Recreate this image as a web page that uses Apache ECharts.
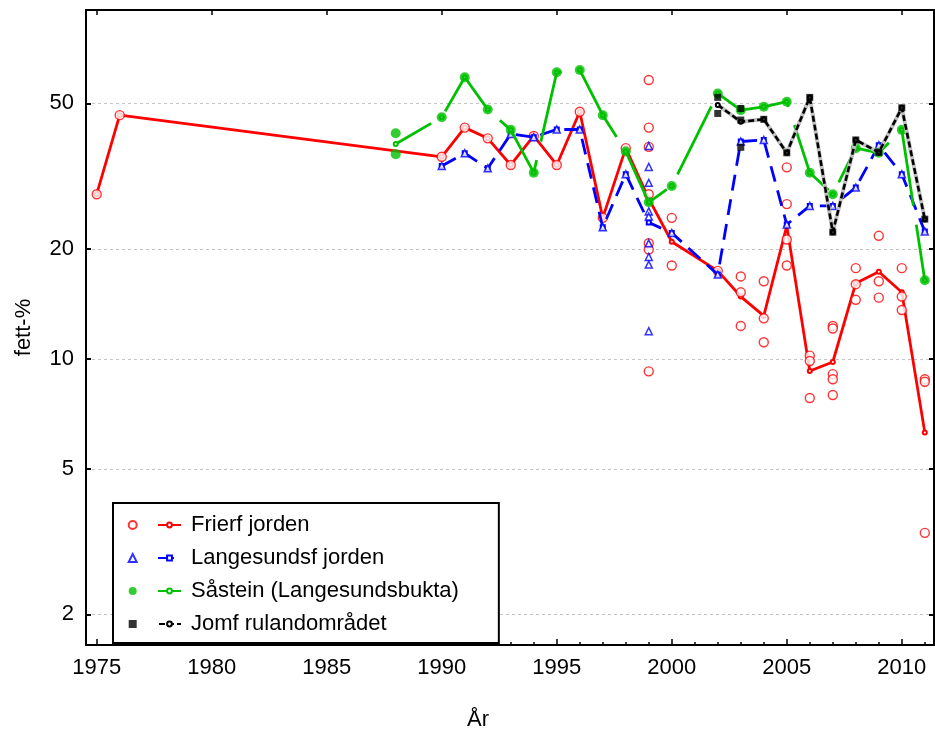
<!DOCTYPE html>
<html><head><meta charset="utf-8">
<script src="https://cdn.jsdelivr.net/npm/echarts@6/dist/echarts.min.js"></script>
<style>html,body{margin:0;padding:0;background:#fff}#c{width:935px;height:738px}</style>
</head><body><div id="c"></div>
<script>
// ---- names & tick labels ----
const seriesNames = ['Frierf jorden', 'Langesundsf jorden', 'Såstein (Langesundsbukta)', 'Jomf rulandområdet'];
const pointNames = ['Frierfjorden prøver', 'Langesundsfjorden prøver', 'Såstein prøver', 'Jomfrulandområdet prøver'];
const xTickLabels = [1975, 1980, 1985, 1990, 1995, 2000, 2005, 2010];
const xMinorTicks = [1975,1976,1977,1978,1979,1980,1981,1982,1983,1984,1985,1986,1987,1988,1989,1990,1991,1992,1993,1994,1995,1996,1997,1998,1999,2000,2001,2002,2003,2004,2005,2006,2007,2008,2009,2010,2011];
const yTickLabels = [2, 5, 10, 20, 50];

// ---- Frierfjorden ----
const friLineYears  = [1975,1976,1990,1991,1992,1993,1994,1995,1996,1997,1998,1999,2000,2002,2003,2004,2005,2006,2007,2008,2009,2010,2011];
const friLineValues = [28.2,46.4,35.7,42.9,40.1,33.9,40.7,33.9,47.4,24.3,37.7,27.4,20.9,17.4,14.8,13.1,23.1,9.26,9.8,16.1,17.3,15.2,6.29];
const friPointYears  = [1975,1976,1990,1991,1992,1993,1994,1995,1996,1997,1998,
  1999,1999,1999,1999,1999,1999,1999, 2000,2000, 2002, 2003,2003,2003, 2004,2004,2004,
  2005,2005,2005,2005, 2006,2006,2006, 2007,2007,2007,2007,2007, 2008,2008,2008,
  2009,2009,2009, 2010,2010,2010, 2011,2011,2011];
const friPointValues = [28.2,46.4,35.7,42.9,40.1,33.9,40.7,33.9,47.4,24.3,37.7,
  57.9,42.9,38.0,28.2,20.7,19.9,9.24, 24.3,18.0, 17.4, 16.8,15.2,12.3, 16.3,12.9,11.1,
  33.4,26.5,21.2,18.0, 10.2,9.86,7.81, 12.3,12.1,9.08,8.79,7.96, 17.7,16.0,14.5,
  21.7,16.3,14.7, 17.7,14.8,13.6, 8.79,8.65,3.34];

// ---- Langesundsfjorden ----
const lanLineYears  = [1990,1991,1992,1993,1994,1995,1996,1997,1998,1999,2000,2002,2003,2004,2005,2006,2007,2008,2009,2010,2011];
const lanLineValues = [33.7,36.5,33.2,41.2,40.4,42.4,42.4,22.9,32.0,23.6,22.1,17.0,39.3,39.7,23.3,26.2,26.2,29.4,38.4,32.0,22.3];
const lanPointYears  = [1990,1991,1992,1993,1994,1995,1996,1997,1998,
  1999,1999,1999,1999,1999,1999,1999,1999,1999,
  2000,2002,2003,2004,2005,2006,2007,2008,2009,2010,2011];
const lanPointValues = [33.7,36.5,33.2,41.2,40.4,42.4,42.4,22.9,32.0,
  38.2,33.5,30.3,25.3,24.5,20.7,19.0,18.1,11.9,
  22.1,17.0,39.3,39.7,23.3,26.2,26.2,29.4,38.4,32.0,22.3];

// ---- Såstein ----
const saaLineYears  = [1988,1990,1991,1992,1993,1994,1995,1996,1997,1998,1999,2000,2002,2003,2004,2005,2006,2007,2008,2009,2010,2011];
const saaLineValues = [38.7,45.8,58.9,48.1,42.3,32.3,60.8,61.7,46.4,36.9,26.8,29.7,53.2,47.9,48.9,50.5,32.3,28.2,37.7,36.6,42.3,16.4];
const saaPointYears  = [1988,1988,1990,1991,1992,1993,1994,1995,1996,1997,1998,1999,2000,2002,2003,2004,2005,2006,2007,2008,2009,2010,2011];
const saaPointValues = [41.4,36.3,45.8,58.9,48.1,42.3,32.3,60.8,61.7,46.4,36.9,26.8,29.7,53.2,47.9,48.9,50.5,32.3,28.2,37.7,36.6,42.3,16.4];

// ---- Jomfrulandområdet ----
const jomLineYears  = [2002,2003,2004,2005,2006,2007,2008,2009,2010,2011];
const jomLineValues = [49.5,44.5,45.2,36.6,51.9,22.2,39.7,36.7,48.6,24.1];
const jomPointYears  = [2002,2002,2003,2003,2003,2004,2005,2006,2007,2008,2009,2010,2011];
const jomPointValues = [51.9,46.9,48.4,45.0,37.9,45.2,36.6,51.9,22.2,39.7,36.7,48.6,24.1];

const zip = (a, b) => a.map((x, i) => [x, b[i]]);
const FONT = '"Liberation Sans", Arial, sans-serif';
const XMIN = 1974.535, XMAX = 2011.4, YMIN = 1.648, YMAX = 90;
const tickLine = {color: '#000', width: 1.5};
const txt = {fontFamily: FONT, fontSize: 22, color: '#000'};

const chart = echarts.init(document.getElementById('c'), null, {renderer: 'canvas'});
chart.setOption({
  animation: false,
  backgroundColor: '#fff',
  grid: {left: 86, right: 1, top: 10, bottom: 93, show: true, borderColor: '#000', borderWidth: 2, outerBoundsMode: 'none'},
  xAxis: [
    {type: 'value', position: 'bottom', min: XMIN, max: XMAX,
     name: 'År', nameLocation: 'middle', nameGap: 64,
     nameTextStyle: Object.assign({}, txt, {padding: [0, 64, 0, 0]}),
     axisLine: {show: false},
     axisTick: {show: true, inside: true, length: 3, customValues: xMinorTicks, lineStyle: tickLine},
     axisLabel: Object.assign({customValues: xTickLabels, margin: 12, formatter: v => String(Math.round(v))}, txt),
     splitLine: {show: false}},
    {type: 'value', position: 'bottom', min: XMIN, max: XMAX,
     axisLine: {show: false},
     axisTick: {show: true, inside: true, length: 6, customValues: xTickLabels, lineStyle: tickLine},
     axisLabel: {show: false}, splitLine: {show: false}},
    {type: 'value', position: 'top', min: XMIN, max: XMAX,
     axisLine: {show: false},
     axisTick: {show: true, inside: true, length: 5, customValues: xTickLabels, lineStyle: tickLine},
     axisLabel: {show: false}, splitLine: {show: false}}
  ],
  yAxis: [
    {type: 'log', logBase: 10, min: YMIN, max: YMAX, position: 'left',
     name: 'fett-%', nameLocation: 'middle', nameGap: 51, nameTextStyle: txt,
     axisLine: {show: false},
     axisTick: {show: true, inside: true, length: 5, customValues: yTickLabels, lineStyle: {color: '#000', width: 2}},
     axisLabel: Object.assign({customValues: yTickLabels, margin: 12, formatter: v => String(Math.round(v))}, txt),
     splitLine: {show: true, lineStyle: {color: '#c4c4c4', width: 1, type: [3, 3]}}},
    {type: 'log', logBase: 10, min: YMIN, max: YMAX, position: 'right',
     axisLine: {show: false},
     axisTick: {show: true, inside: true, length: 5, customValues: yTickLabels, lineStyle: {color: '#000', width: 2}},
     axisLabel: {show: false}, splitLine: {show: false}}
  ],
  legend: [
    {data: seriesNames, orient: 'vertical', left: 113, top: 503,
     padding: [11, 40, 8, 44], itemWidth: 23, itemHeight: 6, itemGap: 11,
     borderColor: '#000', borderWidth: 2, backgroundColor: '#fff', borderRadius: 0,
     textStyle: Object.assign({lineHeight: 22, padding: [0, 0, 0, 5]}, txt),
     selectedMode: false, z: 5},
    {data: pointNames, orient: 'vertical', left: 127.7, top: 514,
     padding: 0, itemWidth: 8, itemHeight: 8, itemGap: 11,
     formatter: () => ' ',
     textStyle: Object.assign({lineHeight: 22}, txt),
     selectedMode: false, z: 6}
  ],
  series: [
    {name: seriesNames[0], type: 'line', data: zip(friLineYears, friLineValues),
     symbol: 'emptyCircle', symbolSize: 4,
     lineStyle: {color: '#ff0000', width: 2.8}, itemStyle: {color: '#ff0000'}, z: 2},
    {name: pointNames[0], type: 'scatter', data: zip(friPointYears, friPointValues),
     symbol: 'circle', symbolSize: 9,
     itemStyle: {color: '#ffffff', borderColor: '#ff0000', borderWidth: 1.4}, z: 3},

    {name: seriesNames[1], type: 'line', data: zip(lanLineYears, lanLineValues),
     symbol: 'emptyRect', symbolSize: 4,
     lineStyle: {color: '#0000ff', width: 2.8, type: [16, 9]}, itemStyle: {color: '#0000ff'}, z: 4},
    {name: pointNames[1], type: 'scatter', data: zip(lanPointYears, lanPointValues),
     symbol: 'triangle', symbolSize: 7,
     itemStyle: {color: '#ffffff', borderColor: '#0000ff', borderWidth: 1.5}, z: 5},

    {name: seriesNames[2], type: 'line', data: zip(saaLineYears, saaLineValues),
     symbol: 'emptyCircle', symbolSize: 4,
     lineStyle: {color: '#00c000', width: 2.8, type: [76, 19], dashOffset: 35}, itemStyle: {color: '#00c000'}, z: 6},
    {name: pointNames[2], type: 'scatter', data: zip(saaPointYears, saaPointValues),
     symbol: 'circle', symbolSize: 10,
     itemStyle: {color: '#00c000'}, z: 7},

    {name: 'Jomfruland underlag', type: 'line', data: zip(jomLineYears, jomLineValues),
     symbol: 'none', lineStyle: {color: '#c0c0c0', width: 4}, z: 8, silent: true},
    {name: seriesNames[3], type: 'line', data: zip(jomLineYears, jomLineValues),
     symbol: 'emptyCircle', symbolSize: 4,
     lineStyle: {color: '#000', width: 2.6, type: [6, 3]}, itemStyle: {color: '#000'}, z: 9},
    {name: pointNames[3], type: 'scatter', data: zip(jomPointYears, jomPointValues),
     symbol: 'rect', symbolSize: 7,
     itemStyle: {color: '#000'}, z: 10}
  ]
});
</script>
</body></html>
